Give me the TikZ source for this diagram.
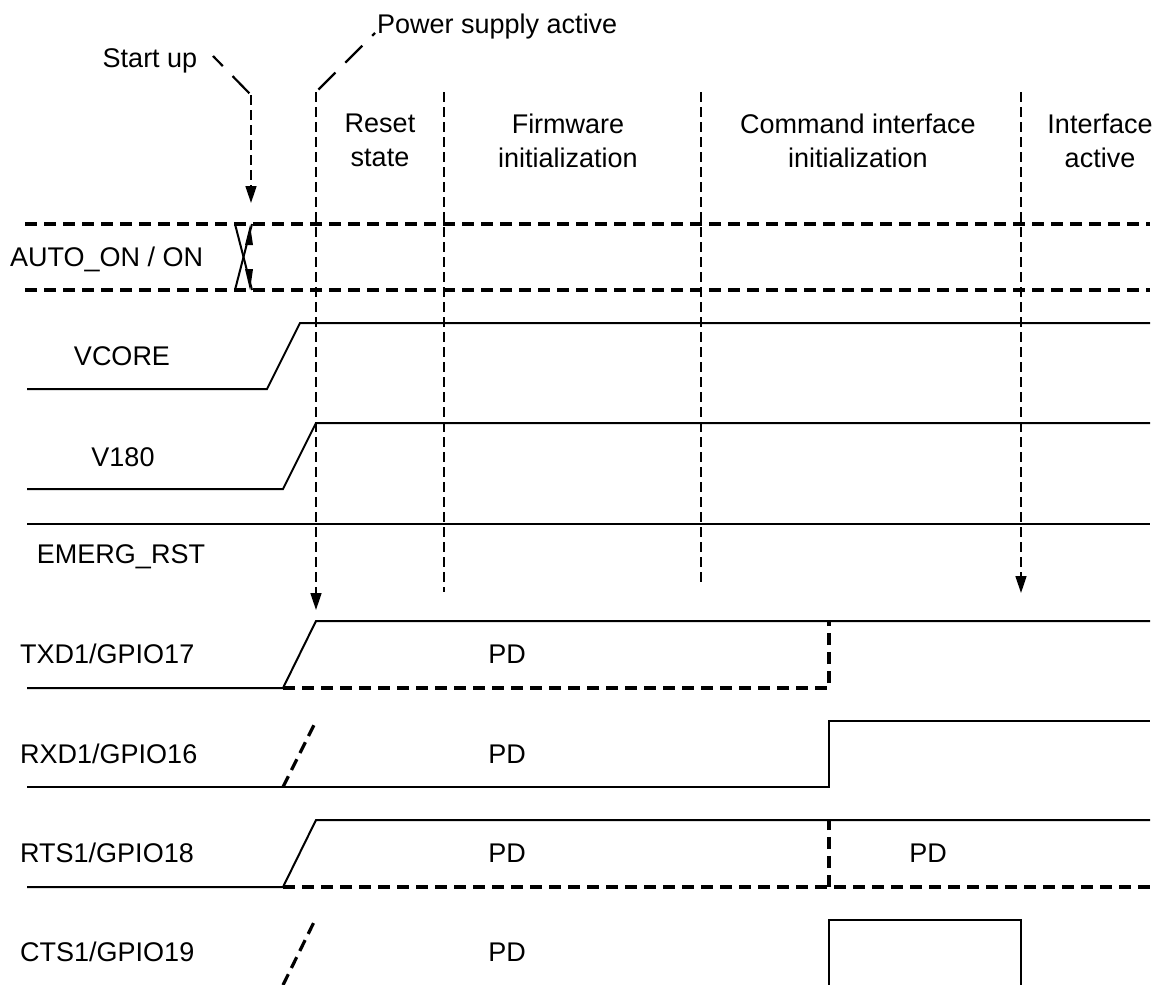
\documentclass[tikz,border=0pt]{standalone}
\usepackage{fontspec}
\setmainfont{Liberation Sans}
\usetikzlibrary{arrows.meta}
\begin{document}
\begin{tikzpicture}[x=1pt,y=-1pt,
  sig/.style={line width=2pt, line join=miter},
  pdline/.style={line width=3.2pt, dash pattern=on 12pt off 7pt},
  sepline/.style={line width=1.6pt, dash pattern=on 10pt off 5pt},
  leadline/.style={line width=2.2pt, dash pattern=on 24pt off 14pt},
  txt/.style={font=\fontsize{27}{33.5}\selectfont, inner sep=0pt, align=center},
  tipend/.style={-{Triangle[length=17pt,width=11pt]}},
  headtri/.style={fill=black, draw=none}
]
\useasboundingbox (0,0) rectangle (1162,985);

% ---- text labels
\node[txt, anchor=base] (startup) at (150,67) {Start up};
\node[txt, anchor=base west] (power) at (377,34) {Power supply active};
\node[txt, anchor=north] (reset) at (380,114) {Reset\\state};
\node[txt, anchor=north] (firm) at (568,114) {Firmware\\initialization};
\node[txt, anchor=north] (cmd) at (858,114) {Command interface\\initialization};
\node[txt, anchor=north] (iact) at (1100,114) {Interface\\active};

\node[txt, anchor=base west] (auto) at (10,266) {AUTO\_ON / ON};
\node[txt, anchor=base] (vcore) at (122,365) {VCORE};
\node[txt, anchor=base] (v180) at (123,466) {V180};
\node[txt, anchor=base] (emerg) at (121,563) {EMERG\_RST};
\node[txt, anchor=base west] (txd) at (20,663) {TXD1/GPIO17};
\node[txt, anchor=base west] (rxd) at (20,763) {RXD1/GPIO16};
\node[txt, anchor=base west] (rts) at (20,862) {RTS1/GPIO18};
\node[txt, anchor=base west] (cts) at (20,961) {CTS1/GPIO19};
\node[txt, anchor=base] (pd1) at (507,663) {PD};
\node[txt, anchor=base] (pd2) at (507,763) {PD};
\node[txt, anchor=base] (pd3) at (507,862) {PD};
\node[txt, anchor=base] (pd4) at (928,862) {PD};
\node[txt, anchor=base] (pd5) at (507,961) {PD};

% ---- leader coordinates
\coordinate (su0) at (213,56);
\coordinate (su1) at (251,95);
\coordinate (su2) at (251,203);
\coordinate (ps0) at (375,33);
\coordinate (ps1) at (316,92);
\coordinate (ps2) at (316,610);
\coordinate (sepA0) at (444,92);
\coordinate (sepA1) at (444,592);
\coordinate (sepB0) at (701,92);
\coordinate (sepB1) at (701,586);
\coordinate (ia0) at (1021,92);
\coordinate (ia1) at (1021,593);

\draw[leadline, dash phase=10pt] (su0) -- (su1);
\draw[sepline, tipend] (su1) -- (su2);
\draw[leadline, dash phase=20pt] (ps0) -- (ps1);
\draw[sepline, tipend] (ps1) -- (ps2);
\draw[sepline] (sepA0) -- (sepA1);
\draw[sepline] (sepB0) -- (sepB1);
\draw[sepline, tipend] (ia0) -- (ia1);

% ---- AUTO_ON / ON
\coordinate (aL1) at (25,224);
\coordinate (aR1) at (1150,224);
\coordinate (aL2) at (25,290);
\coordinate (aR2) at (1150,290);
\draw[pdline] (aL1) -- (aR1);
\draw[pdline] (aL2) -- (aR2);
\draw[sig] (235,224) -- (252,290);
\draw[sig] (235,290) -- (252,224);
\path[headtri] (250,225) -- (245,245) -- (253,245) -- cycle;
\path[headtri] (250,290) -- (245,269) -- (253,269) -- cycle;

% ---- VCORE
\draw[sig] (27,389) -- (267,389) -- (300,323) -- (1150,323);
% ---- V180
\draw[sig] (27,489) -- (283,489) -- (316,423) -- (1150,423);
% ---- EMERG_RST
\draw[sig] (27,524) -- (1150,524);

% ---- TXD1/GPIO17
\draw[sig] (27,688) -- (283,688) -- (316,621) -- (1150,621);
\draw[pdline] (283,688) -- (829,688) -- (829,621);
% ---- RXD1/GPIO16
\draw[pdline] (283,787) -- (316,721);
\draw[sig] (27,787) -- (829,787) -- (829,721) -- (1150,721);
% ---- RTS1/GPIO18
\draw[sig] (27,887) -- (283,887) -- (316,820) -- (1150,820);
\draw[pdline] (283,887) -- (1150,887);
\draw[pdline] (829,887) -- (829,820);
% ---- CTS1/GPIO19
\draw[pdline] (283,985) -- (316,918);
\draw[sig] (829,985) -- (829,920) -- (1021,920) -- (1021,985);
\end{tikzpicture}
\end{document}
